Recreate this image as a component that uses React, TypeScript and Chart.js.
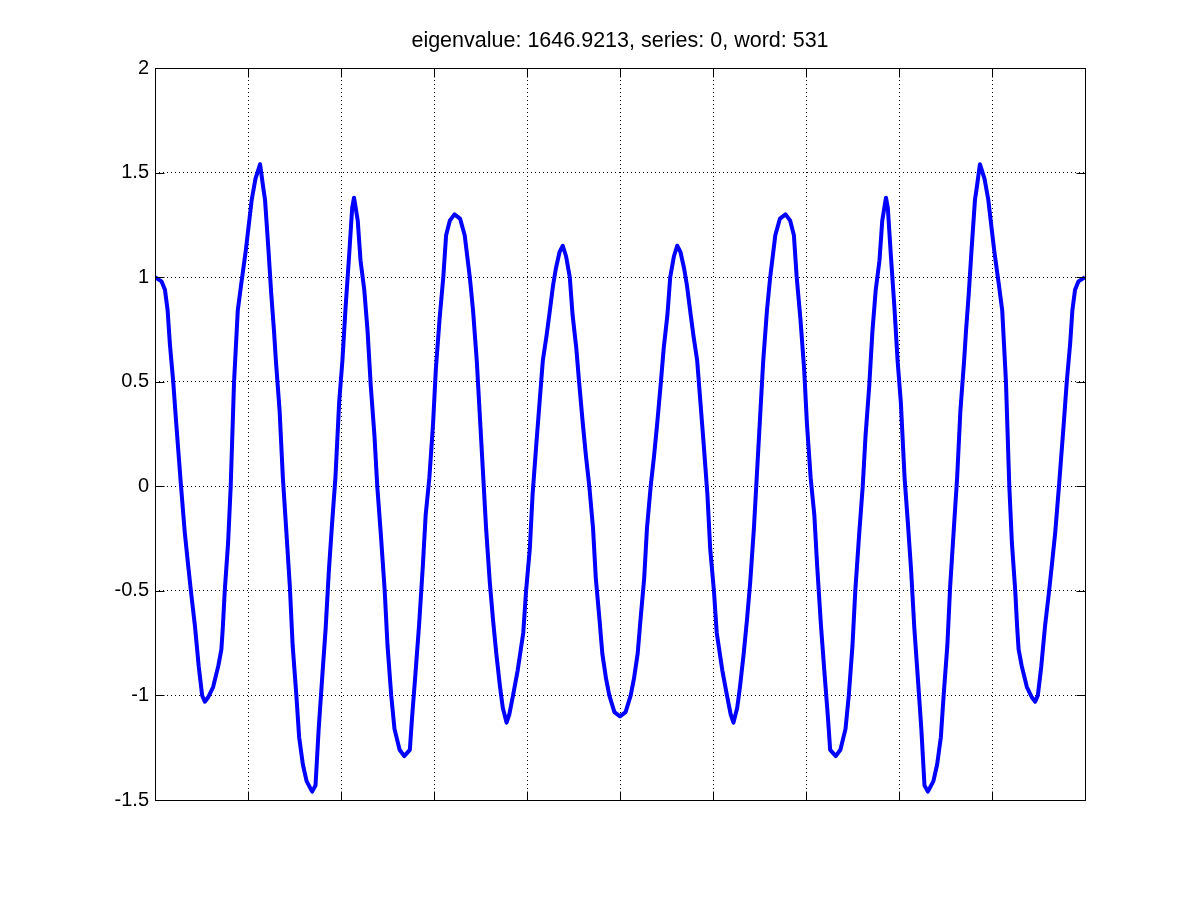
import React, { useEffect, useRef } from "react";
import { Chart, registerables } from "chart.js";

Chart.register(...registerables);

const titleText = "eigenvalue: 1646.9213, series: 0, word: 531";

const yTickValues = [-1.5, -1, -0.5, 0, 0.5, 1, 1.5, 2];

const xValues = [
  0, 0.7, 1.07, 1.36, 1.6, 1.96, 2.3, 2.8, 3.2, 3.57,
  3.86, 4.3, 4.7, 5.07, 5.36, 5.7, 6.25, 6.8, 7.14, 7.3,
  7.5, 7.86, 8.14, 8.5, 8.9, 9.25, 9.77, 10.4, 10.8, 11.3,
  11.6, 11.83, 12.2, 12.5, 12.8, 13.0, 13.4, 13.75, 14.1, 14.5,
  14.8, 15.2, 15.5, 15.9, 16.3, 16.9, 17.26, 17.6, 18.0, 18.35,
  18.7, 19.07, 19.4, 19.8, 20.15, 20.5, 20.87, 21.2, 21.4, 21.8,
  22.1, 22.5, 22.86, 23.2, 23.6, 23.9, 24.3, 24.7, 25.0, 25.4,
  25.75, 26.3, 26.8, 27.4, 27.65, 28.0, 28.4, 28.8, 29.1, 29.5,
  29.9, 30.2, 30.6, 31.0, 31.3, 31.7, 32.2, 32.8, 33.3, 33.85,
  34.2, 34.6, 34.9, 35.3, 35.6, 36.0, 36.35, 36.7, 37.1, 37.4,
  37.8, 38.1, 38.5, 39.0, 39.6, 39.9, 40.3, 40.6, 41.0, 41.35,
  41.7, 42.1, 42.4, 42.8, 43.1, 43.5, 43.85, 44.2, 44.6, 44.9,
  45.3, 45.6, 46.0, 46.35, 46.7, 47.1, 47.4, 47.8, 48.1, 48.5,
  48.85, 49.4, 50.0,
  50.6, 51.15, 51.5, 51.9, 52.2, 52.6, 52.9, 53.3, 53.65, 54.0,
  54.4, 54.7, 55.1, 55.4, 55.8, 56.15, 56.5, 56.9, 57.2, 57.6,
  57.9, 58.3, 58.65, 59.0, 59.4, 59.7, 60.1, 60.4, 61.0, 61.5,
  61.9, 62.2, 62.6, 62.9, 63.3, 63.65, 64.0, 64.4, 64.7, 65.1,
  65.4, 65.8, 66.15, 66.7, 67.2, 67.8, 68.3, 68.7, 69.0, 69.4,
  69.8, 70.1, 70.5, 70.9, 71.2, 71.6, 72.0, 72.35, 72.6, 73.2,
  73.7, 74.25, 74.6, 75.0, 75.3, 75.7, 76.1, 76.4, 76.8, 77.14,
  77.5, 77.9, 78.2, 78.6, 78.8, 79.13, 79.5, 79.85, 80.2, 80.6,
  80.93, 81.3, 81.65, 82.0, 82.4, 82.74, 83.1, 83.7, 84.1, 84.5,
  84.8, 85.2, 85.5, 85.9, 86.25, 86.6, 87.0, 87.2, 87.5, 87.8,
  88.17, 88.4, 88.7, 89.2, 89.6, 90.23, 90.75, 91.1, 91.5, 91.86,
  92.14, 92.5, 92.7, 92.86, 93.2, 93.75, 94.3, 94.64, 94.93, 95.3,
  95.7, 96.14, 96.43, 96.8, 97.2, 97.7, 98.04, 98.4, 98.64, 98.93,
  99.3, 100,
];

const yValues = [
  1.0, 0.98, 0.94, 0.84, 0.68, 0.5, 0.29, 0.0, -0.22, -0.38,
  -0.5, -0.67, -0.86, -1.0, -1.03, -1.01, -0.96, -0.86, -0.78, -0.67,
  -0.5, -0.27, 0.0, 0.5, 0.84, 0.96, 1.13, 1.37, 1.47, 1.54,
  1.44, 1.37, 1.13, 0.92, 0.74, 0.6, 0.36, 0.04, -0.2, -0.48,
  -0.76, -1.0, -1.2, -1.33, -1.41, -1.46, -1.43, -1.16, -0.9, -0.68,
  -0.4, -0.16, 0.04, 0.4, 0.6, 0.86, 1.1, 1.33, 1.38, 1.27,
  1.08, 0.94, 0.74, 0.48, 0.24, 0.0, -0.24, -0.5, -0.76, -1.0,
  -1.16, -1.26, -1.29, -1.26, -1.1, -0.9, -0.66, -0.38, -0.14, 0.04,
  0.3, 0.56, 0.8, 1.0, 1.2, 1.27, 1.3, 1.28, 1.2, 1.0,
  0.84, 0.6, 0.36, 0.04, -0.2, -0.46, -0.64, -0.8, -0.96, -1.06,
  -1.13, -1.09, -1.0, -0.88, -0.7, -0.5, -0.3, -0.04, 0.2, 0.4,
  0.6, 0.72, 0.82, 0.96, 1.04, 1.12, 1.15, 1.1, 1.0, 0.82,
  0.66, 0.5, 0.3, 0.14, 0.0, -0.2, -0.44, -0.64, -0.8, -0.92,
  -1.0, -1.08, -1.1,
  -1.08, -1.0, -0.92, -0.8, -0.64, -0.44, -0.2, 0.0, 0.14, 0.3,
  0.5, 0.66, 0.82, 1.0, 1.1, 1.15, 1.12, 1.04, 0.96, 0.82,
  0.72, 0.6, 0.4, 0.2, -0.04, -0.3, -0.5, -0.7, -0.88, -1.0,
  -1.09, -1.13, -1.06, -0.96, -0.8, -0.64, -0.46, -0.2, 0.04, 0.36,
  0.6, 0.84, 1.0, 1.2, 1.28, 1.3, 1.27, 1.2, 1.0, 0.8,
  0.56, 0.3, 0.04, -0.14, -0.38, -0.66, -0.9, -1.1, -1.26, -1.29,
  -1.26, -1.16, -1.0, -0.76, -0.5, -0.24, 0.0, 0.24, 0.48, 0.74,
  0.94, 1.08, 1.27, 1.38, 1.33, 1.1, 0.86, 0.6, 0.4, 0.04,
  -0.16, -0.4, -0.68, -0.9, -1.16, -1.43, -1.46, -1.41, -1.33, -1.2,
  -1.0, -0.76, -0.48, -0.2, 0.04, 0.36, 0.6, 0.74, 0.92, 1.13,
  1.37, 1.44, 1.54, 1.47, 1.37, 1.13, 0.96, 0.84, 0.5, 0.0,
  -0.27, -0.5, -0.67, -0.78, -0.86, -0.96, -1.01, -1.03, -1.0, -0.86,
  -0.67, -0.5, -0.38, -0.22, 0.0, 0.29, 0.5, 0.68, 0.84, 0.94,
  0.98, 1.0,
];

const FONT = '"Liberation Sans", Arial, Helvetica, sans-serif';

const framePlugin = {
  id: "matlabFrame",
  afterDraw(chart: any) {
    const { ctx, chartArea } = chart;
    const { left, right, top, bottom } = chartArea;
    const xs = chart.scales.x;
    const ys = chart.scales.y;
    const L = Math.round(left) + 0.5;
    const R = Math.round(right) + 0.5;
    const T = Math.round(top) + 0.5;
    const B = Math.round(bottom) + 0.5;
    ctx.save();
    ctx.setLineDash([]);
    ctx.strokeStyle = "#000";
    ctx.lineWidth = 1;
    const tl = 9;
    ctx.beginPath();
    xs.ticks.forEach((t: any) => {
      const p = Math.round(xs.getPixelForValue(t.value)) + 0.5;
      ctx.moveTo(p, B);
      ctx.lineTo(p, B - tl);
      ctx.moveTo(p, T);
      ctx.lineTo(p, T + tl);
    });
    ys.ticks.forEach((t: any) => {
      const p = Math.round(ys.getPixelForValue(t.value)) + 0.5;
      ctx.moveTo(L, p);
      ctx.lineTo(L + tl, p);
      ctx.moveTo(R, p);
      ctx.lineTo(R - tl, p);
    });
    ctx.stroke();
    ctx.strokeRect(L, T, R - L, B - T);
    ctx.fillStyle = "#000";
    ctx.font = `21.5px ${FONT}`;
    ctx.textAlign = "center";
    ctx.textBaseline = "alphabetic";
    ctx.fillText(titleText, (left + right) / 2, 47);
    ctx.restore();
  },
};

export default function App() {
  const ref = useRef<HTMLCanvasElement | null>(null);

  useEffect(() => {
    document.body.style.margin = "0";
    document.body.style.background = "#fff";
    const canvas = ref.current;
    if (!canvas) return;
    const points = xValues.map((x, i) => ({ x, y: yValues[i] }));
    const chart = new Chart(canvas, {
      type: "line",
      data: {
        datasets: [
          {
            data: points,
            borderColor: "#0000ff",
            backgroundColor: "#0000ff",
            borderWidth: 4,
            pointRadius: 0,
            tension: 0,
            fill: false,
            borderJoinStyle: "round",
          },
        ],
      },
      options: {
        animation: false,
        responsive: false,
        devicePixelRatio: 1,
        layout: { padding: { left: 0, right: 115, top: 68, bottom: 100 } },
        plugins: {
          legend: { display: false },
          tooltip: { enabled: false },
          title: { display: false },
        },
        scales: {
          x: {
            type: "linear",
            min: 0,
            max: 100,
            ticks: { display: false, stepSize: 10 },
            grid: { color: "#000", lineWidth: 1, drawTicks: false, tickLength: 0 },
            border: { display: false, dash: [1, 3] },
            afterFit(scale: any) {
              scale.height = 0;
            },
          },
          y: {
            type: "linear",
            min: -1.5,
            max: 2,
            afterBuildTicks(scale: any) {
              scale.ticks = yTickValues.map((v) => ({ value: v }));
            },
            ticks: {
              stepSize: 0.5,
              color: "#000",
              font: { family: FONT, size: 20 },
              padding: 6,
              callback: (v: any) => String(v),
            },
            grid: { color: "#000", lineWidth: 1, drawTicks: false, tickLength: 0 },
            border: { display: false, dash: [1, 3] },
            afterFit(scale: any) {
              scale.width = 155;
            },
          },
        },
      },
      plugins: [framePlugin],
    } as any);
    return () => chart.destroy();
  }, []);

  return <canvas ref={ref} width={1200} height={900} style={{ display: "block" }} />;
}
